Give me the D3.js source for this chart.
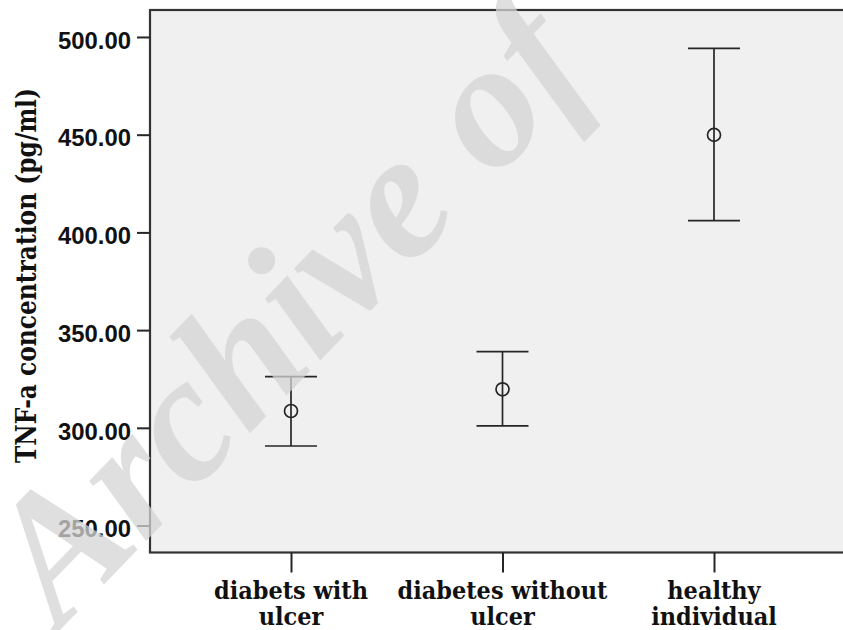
<!DOCTYPE html>
<html>
<head>
<meta charset="utf-8">
<script src="https://cdn.jsdelivr.net/npm/d3@7"></script>
<style>
  html, body { margin: 0; padding: 0; background: #fff; }
  svg { display: block; }
</style>
</head>
<body>
<svg id="chart" width="843" height="630"></svg>
<script>
// Group labels (line breaks as drawn under each tick)
const categories = ["diabets with\nulcer", "diabetes without\nulcer", "healthy\nindividual"];
// Mean TNF-a concentration per group and its error-bar limits (pg/ml)
const means = [308.6, 319.7, 449.9];
const lower = [290.7, 301.0, 406.0];
const upper = [326.2, 339.0, 494.2];
// Y-axis tick values
const yTicks = [250, 300, 350, 400, 450, 500];
const yTitle = "TNF-a concentration (pg/ml)";
const watermark = "Archive of";

const svg = d3.select("#chart");
const plot = { left: 150, right: 855, top: 10, bottom: 552.5 };

const x = d3.scalePoint()
  .domain(categories)
  .range([plot.left, plot.right])
  .padding(2 / 3);

const y = d3.scaleLinear()
  .domain([236.2, 513.8])
  .range([plot.bottom, plot.top]);

const ink = "#262626";

// plot area background
svg.append("rect")
  .attr("x", plot.left).attr("y", plot.top)
  .attr("width", plot.right - plot.left).attr("height", plot.bottom - plot.top)
  .attr("fill", "#f0f0f0")
  .attr("stroke", "#333").attr("stroke-width", 2.2);

// y axis
const yAxis = svg.append("g")
  .attr("transform", `translate(${plot.left},0)`)
  .call(d3.axisLeft(y).tickValues(yTicks).tickFormat(d3.format(".2f")).tickSize(13).tickPadding(6));
yAxis.select(".domain").remove();
yAxis.selectAll(".tick line").attr("stroke", ink).attr("stroke-width", 2);
yAxis.selectAll(".tick text")
  .attr("fill", "#111")
  .attr("dy", "11.3px")
  .style("font-family", "'Liberation Sans', Arial, sans-serif")
  .style("font-weight", "bold")
  .style("font-size", "23px")
  .attr("textLength", 73).attr("lengthAdjust", "spacingAndGlyphs");

// x axis
const xAxis = svg.append("g")
  .attr("transform", `translate(0,${plot.bottom})`)
  .call(d3.axisBottom(x).tickSize(20).tickFormat(""));
xAxis.select(".domain").remove();
xAxis.selectAll(".tick line").attr("stroke", ink).attr("stroke-width", 2);

// two-line category labels in a condensed bold serif
const labelFont = "'DejaVu Serif', 'Liberation Serif', serif";
const labelG = svg.append("g");
const labels = [];
categories.forEach(c => {
  c.split("\n").forEach((line, i) => {
    const t = labelG.append("text")
      .attr("x", x(c)).attr("y", 599 + i * 26)
      .attr("text-anchor", "middle")
      .attr("fill", "#111")
      .style("font-family", labelFont)
      .style("font-weight", "bold")
      .style("font-size", "24px")
      .text(line);
    labels.push(t);
  });
});
// horizontal condensing common to all label lines
const refWidth = labels[0].node().getComputedTextLength();
const squeeze = 154 / refWidth;
labels.forEach(t => {
  const w = t.node().getComputedTextLength();
  t.attr("textLength", w * squeeze).attr("lengthAdjust", "spacingAndGlyphs");
});

// y-axis title
const title = svg.append("text")
  .attr("transform", "translate(36,275.5) rotate(-90)")
  .attr("text-anchor", "middle")
  .attr("fill", "#111")
  .style("font-family", labelFont)
  .style("font-weight", "bold")
  .style("font-size", "28px")
  .text(yTitle);
title.attr("textLength", 375).attr("lengthAdjust", "spacingAndGlyphs");

// error bars with hollow mean markers
const capHalf = 26;
const bars = svg.append("g").attr("stroke", ink).attr("stroke-width", 1.7).attr("fill", "none");
categories.forEach((c, i) => {
  const cx = x(c);
  bars.append("line").attr("x1", cx).attr("x2", cx).attr("y1", y(upper[i])).attr("y2", y(lower[i]));
  bars.append("line").attr("x1", cx - capHalf).attr("x2", cx + capHalf).attr("y1", y(upper[i])).attr("y2", y(upper[i]));
  bars.append("line").attr("x1", cx - capHalf).attr("x2", cx + capHalf).attr("y1", y(lower[i])).attr("y2", y(lower[i]));
  bars.append("circle").attr("cx", cx).attr("cy", y(means[i])).attr("r", 6.5);
});

// repository watermark laid over the figure
svg.append("text")
  .attr("transform", "translate(60,630) rotate(-46)")
  .attr("fill", "#d4d4d4")
  .attr("fill-opacity", 0.75)
  .style("font-family", "'Liberation Serif', 'Times New Roman', serif")
  .style("font-weight", "bold")
  .style("font-style", "italic")
  .style("font-size", "180px")
  .text(watermark);
</script>
</body>
</html>
